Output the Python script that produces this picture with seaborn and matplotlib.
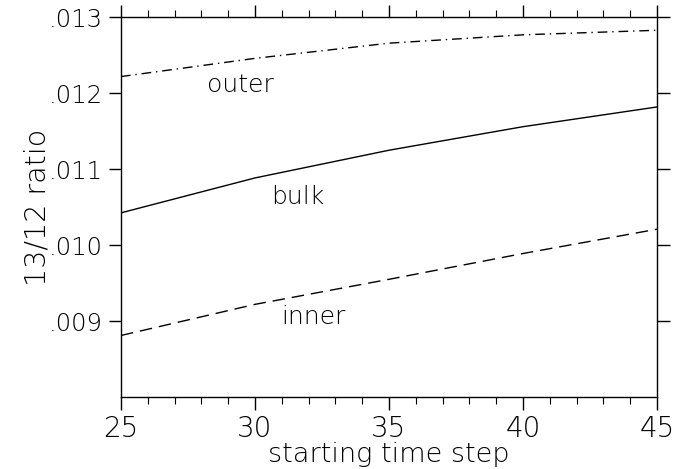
import matplotlib
matplotlib.use("Agg")
import pandas as pd
import matplotlib.pyplot as plt
import seaborn as sns
from matplotlib.ticker import MultipleLocator, FuncFormatter

# values
steps = [25, 30, 35, 40, 45]
outer = [0.01222, 0.01246, 0.01266, 0.01277, 0.01283]
bulk = [0.010425, 0.010885, 0.01125, 0.01156, 0.01182]
inner = [0.00881, 0.00922, 0.00955, 0.00989, 0.01021]
y_ticks = [0.009, 0.010, 0.011, 0.012, 0.013]
x_ticks = [25, 30, 35, 40, 45]

df = pd.DataFrame({"step": steps * 3,
                   "ratio": outer + bulk + inner,
                   "layer": ["outer"] * 5 + ["bulk"] * 5 + ["inner"] * 5})

sns.set_style("ticks")
plt.rcParams['font.family'] = ['DejaVu Sans']
plt.rcParams.update({"text.color": "black", "axes.labelcolor": "black",
                     "xtick.color": "black", "ytick.color": "black",
                     "font.weight": "light"})

fig = plt.figure(figsize=(6.83, 4.69), dpi=100)
ax = fig.add_axes([0.177, 0.1535, 0.785, 0.8095])

styles = {"outer": (0, (7, 3.5, 1, 3.5)), "bulk": "-", "inner": (0, (9, 5))}
for name, ls in styles.items():
    sub = df[df["layer"] == name]
    sns.lineplot(data=sub, x="step", y="ratio", ax=ax, color="black",
                 linewidth=1.0, linestyle=ls, legend=False)

ax.set_xlim(25, 45)
ax.set_ylim(0.008, 0.013)
ax.set_xticks(x_ticks)
ax.set_yticks(y_ticks)
ax.xaxis.set_minor_locator(MultipleLocator(1))
ax.yaxis.set_major_formatter(FuncFormatter(lambda v, p: f"{v:.3f}".lstrip("0")))

ax.tick_params(axis="x", which="major", direction="out", length=9, width=1,
               top=True, bottom=True, labelsize=20, pad=4)
ax.tick_params(axis="x", which="minor", direction="out", length=5, width=0.8,
               top=True, bottom=True)
ax.tick_params(axis="y", which="major", direction="out", length=9, width=1,
               left=True, right=True, labelsize=17.5, pad=4)
for lab in ax.get_xticklabels() + ax.get_yticklabels():
    lab.set_fontweight("light")

for s in ax.spines.values():
    s.set_visible(True)
    s.set_linewidth(1.0)
    s.set_color("black")

ax.set_xlabel("starting time step", fontsize=19.5, fontweight="light", labelpad=-1)
ax.set_ylabel("13/12 ratio", fontsize=20.5, fontweight="light", labelpad=-2)

ax.text(28.2, 0.01202, "outer", fontsize=18, fontweight="light")
ax.text(30.6, 0.01054, "bulk", fontsize=18, fontweight="light")
ax.text(31.0, 0.00896, "inner", fontsize=18, fontweight="light")

fig.savefig("out.png", dpi=100)
